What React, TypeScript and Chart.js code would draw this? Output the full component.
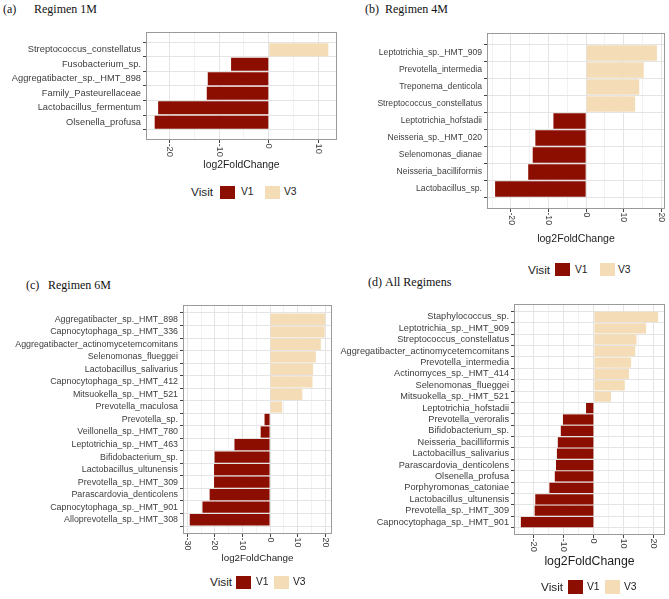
import React, { useEffect, useRef } from "react";
import { Chart, registerables } from "chart.js";

Chart.register(...registerables);

const V1_COLOR = "#8b0e00";
const V3_COLOR = "#f3dcb6";
const SANS = '"Liberation Sans", Arial, sans-serif';
const SERIF = '"Liberation Serif", "Times New Roman", serif';

// Regimen 1M (top to bottom)
const regimen1MTaxa = [
  "Streptococcus_constellatus",
  "Fusobacterium_sp.",
  "Aggregatibacter_sp._HMT_898",
  "Family_Pasteurellaceae",
  "Lactobacillus_fermentum",
  "Olsenella_profusa",
];
const regimen1MLfc = [12.0, -7.6, -12.3, -12.5, -22.3, -23.0];

// Regimen 4M
const regimen4MTaxa = [
  "Leptotrichia_sp._HMT_909",
  "Prevotella_intermedia",
  "Treponema_denticola",
  "Streptococcus_constellatus",
  "Leptotrichia_hofstadii",
  "Neisseria_sp._HMT_020",
  "Selenomonas_dianae",
  "Neisseria_bacilliformis",
  "Lactobacillus_sp.",
];
const regimen4MLfc = [18.8, 15.3, 14.1, 13.0, -8.7, -13.5, -14.2, -15.4, -24.2];

// Regimen 6M
const regimen6MTaxa = [
  "Aggregatibacter_sp._HMT_898",
  "Capnocytophaga_sp._HMT_336",
  "Aggregatibacter_actinomycetemcomitans",
  "Selenomonas_flueggei",
  "Lactobacillus_salivarius",
  "Capnocytophaga_sp._HMT_412",
  "Mitsuokella_sp._HMT_521",
  "Prevotella_maculosa",
  "Prevotella_sp.",
  "Veillonella_sp._HMT_780",
  "Leptotrichia_sp._HMT_463",
  "Bifidobacterium_sp.",
  "Lactobacillus_ultunensis",
  "Prevotella_sp._HMT_309",
  "Parascardovia_denticolens",
  "Capnocytophaga_sp._HMT_901",
  "Alloprevotella_sp._HMT_308",
];
const regimen6MLfc = [
  20.0, 19.8, 18.4, 16.6, 15.6, 15.4, 11.7, 4.4, -2.0, -3.4, -12.9, -20.1, -20.3,
  -20.3, -21.9, -24.5, -29.1,
];

// All regimens
const allRegimensTaxa = [
  "Staphylococcus_sp.",
  "Leptotrichia_sp._HMT_909",
  "Streptococcus_constellatus",
  "Aggregatibacter_actinomycetemcomitans",
  "Prevotella_intermedia",
  "Actinomyces_sp._HMT_414",
  "Selenomonas_flueggei",
  "Mitsuokella_sp._HMT_521",
  "Leptotrichia_hofstadii",
  "Prevotella_veroralis",
  "Bifidobacterium_sp.",
  "Neisseria_bacilliformis",
  "Lactobacillus_salivarius",
  "Parascardovia_denticolens",
  "Olsenella_profusa",
  "Porphyromonas_catoniae",
  "Lactobacillus_ultunensis",
  "Prevotella_sp._HMT_309",
  "Capnocytophaga_sp._HMT_901",
];
const allRegimensLfc = [
  21.4, 17.4, 14.2, 13.8, 12.4, 11.7, 10.3, 5.7, -2.6, -10.3, -11.0, -12.0, -12.3,
  -12.6, -13.0, -14.8, -19.5, -19.7, -24.3,
];

type PanelProps = {
  taxa: string[];
  lfc: number[];
  left: number; // canvas left
  top: number; // canvas top
  width: number;
  height: number;
  axisW: number; // width reserved for taxon labels
  axisH: number; // height reserved under the panel
  tickSize: number;
  titleSize: number;
  titleOffset: number;
};

const panelDecor = {
  id: "panelDecor",
  afterDraw(chart: any, _args: any, opts: any) {
    const { ctx, chartArea: a } = chart;
    const x = chart.scales.x;
    ctx.save();
    // panel border
    ctx.strokeStyle = "#9a9a9a";
    ctx.lineWidth = 1;
    ctx.strokeRect(a.left + 0.5, a.top + 0.5, a.right - a.left - 1, a.bottom - a.top - 1);
    // rotated value labels
    ctx.fillStyle = "#3d3d3d";
    ctx.font = `${opts.tickSize}px ${SANS}`;
    ctx.textAlign = "left";
    ctx.textBaseline = "middle";
    for (const t of x.ticks) {
      if (Math.abs(t.value % 10) > 1e-9) continue;
      const px = x.getPixelForValue(t.value);
      ctx.save();
      ctx.translate(px, a.bottom + 3.5);
      ctx.rotate(Math.PI / 2);
      ctx.fillText(String(t.value), 0, 0);
      ctx.restore();
    }
    // axis title
    ctx.fillStyle = "#1e1e1e";
    ctx.font = `${opts.titleSize}px ${SANS}`;
    ctx.textAlign = "center";
    ctx.textBaseline = "middle";
    ctx.fillText("log2FoldChange", (a.left + a.right) / 2, a.bottom + opts.titleOffset);
    ctx.restore();
  },
};

function Panel(p: PanelProps) {
  const ref = useRef<HTMLCanvasElement>(null);
  useEffect(() => {
    const n = p.taxa.length;
    const bottomUp = [...p.taxa].reverse();
    const lo = Math.min(...p.lfc);
    const hi = Math.max(...p.lfc);
    const pad = (hi - lo) * 0.05;
    const points = p.lfc.map((v, i) => ({ x: v, y: n - 1 - i }));
    const colors = p.lfc.map((v) => (v < 0 ? V1_COLOR : V3_COLOR));
    const isMajor = (c: any) => c.tick && Math.abs(c.tick.value % 10) < 1e-9;
    const chart = new Chart(ref.current!, {
      type: "bar",
      data: {
        datasets: [
          {
            data: points,
            backgroundColor: colors,
            borderWidth: 0,
            categoryPercentage: 0.9,
            barPercentage: 1,
          },
        ],
      },
      plugins: [panelDecor],
      options: {
        responsive: false,
        animation: false,
        indexAxis: "y",
        layout: { padding: { top: 2, right: 2, left: 0, bottom: 0 } },
        plugins: {
          legend: { display: false },
          tooltip: { enabled: false },
          panelDecor: {
            tickSize: p.tickSize,
            titleSize: p.titleSize,
            titleOffset: p.titleOffset,
          },
        } as any,
        scales: {
          x: {
            type: "linear",
            min: lo - pad,
            max: hi + pad,
            border: { display: false },
            ticks: {
              display: false,
              stepSize: 5,
              includeBounds: false,
              maxTicksLimit: 40,
            },
            grid: {
              color: (c: any) => (isMajor(c) ? "#e4e4e4" : "#f2f2f2"),
              tickColor: (c: any) => (isMajor(c) ? "#444" : "rgba(0,0,0,0)"),
              tickLength: 3,
              drawTicks: true,
            },
            afterFit: (s: any) => {
              s.height = p.axisH;
              s.paddingLeft = 0;
              s.paddingRight = 0;
            },
          },
          y: {
            type: "linear",
            min: -0.6,
            max: n - 0.4,
            border: { display: false },
            afterBuildTicks: (s: any) => {
              s.ticks = bottomUp.map((_, i) => ({ value: i }));
            },
            ticks: {
              padding: 2,
              color: "#3d3d3d",
              font: { family: SANS, size: p.tickSize },
              callback: (v: any) => bottomUp[Math.round(Number(v))] ?? "",
              autoSkip: false,
            },
            grid: {
              color: "#e4e4e4",
              tickColor: "#444",
              tickLength: 3,
            },
            afterFit: (s: any) => {
              s.width = p.axisW;
              s.paddingTop = 0;
              s.paddingBottom = 0;
            },
          },
        },
      },
    });
    return () => chart.destroy();
  }, []);
  return (
    <canvas
      ref={ref}
      width={p.width}
      height={p.height}
      style={{
        position: "absolute",
        left: p.left,
        top: p.top,
        width: p.width,
        height: p.height,
      }}
    />
  );
}

function PanelTitle({ tag, text, tagX, textX, baseline }: any) {
  const size = 12;
  const common: React.CSSProperties = {
    position: "absolute",
    top: baseline - 10,
    fontFamily: SERIF,
    fontSize: size,
    lineHeight: `${size}px`,
    color: "#111",
    whiteSpace: "nowrap",
  };
  return (
    <>
      <div style={{ ...common, left: tagX }}>{tag}</div>
      <div style={{ ...common, left: textX }}>{text}</div>
    </>
  );
}

function Legend({ visitX, box1X, txt1X, box3X, txt3X, cy, boxW, boxH }: any) {
  const txt = (x: number, s: string, size: number) => (
    <div
      style={{
        position: "absolute",
        left: x,
        top: cy - 10,
        height: 20,
        lineHeight: "20px",
        fontFamily: SANS,
        fontSize: size,
        color: "#222",
        whiteSpace: "nowrap",
      }}
    >
      {s}
    </div>
  );
  const box = (x: number, c: string) => (
    <div
      style={{
        position: "absolute",
        left: x,
        top: cy - boxH / 2,
        width: boxW,
        height: boxH,
        background: c,
      }}
    />
  );
  return (
    <>
      {txt(visitX, "Visit", 11.8)}
      {box(box1X, V1_COLOR)}
      {txt(txt1X, "V1", 10.3)}
      {box(box3X, V3_COLOR)}
      {txt(txt3X, "V3", 10.3)}
    </>
  );
}

export default function App() {
  return (
    <div
      style={{
        position: "absolute",
        left: 0,
        top: 0,
        width: 669,
        height: 599,
        background: "#fff",
        overflow: "hidden",
      }}
    >
      <PanelTitle tag="(a)" text="Regimen 1M" tagX={3} textX={34} baseline={13} />
      <PanelTitle tag="(b)" text="Regimen 4M" tagX={365} textX={385} baseline={13} />
      <PanelTitle tag="(c)" text="Regimen 6M" tagX={26} textX={48} baseline={289} />
      <PanelTitle tag="(d)" text="All Regimens" tagX={368} textX={385} baseline={286} />

      <Panel
        taxa={regimen1MTaxa}
        lfc={regimen1MLfc}
        left={0}
        top={30}
        width={339}
        height={150}
        axisW={146}
        axisH={40}
        tickSize={9.3}
        titleSize={10.4}
        titleOffset={25}
      />
      <Panel
        taxa={regimen4MTaxa}
        lfc={regimen4MLfc}
        left={340}
        top={31}
        width={327}
        height={218}
        axisW={147}
        axisH={40}
        tickSize={8.6}
        titleSize={10.6}
        titleOffset={30.5}
      />
      <Panel
        taxa={regimen6MTaxa}
        lfc={regimen6MLfc}
        left={0}
        top={303}
        width={334}
        height={266}
        axisW={183}
        axisH={35}
        tickSize={8.9}
        titleSize={9.8}
        titleOffset={24}
      />
      <Panel
        taxa={allRegimensTaxa}
        lfc={allRegimensLfc}
        left={340}
        top={302}
        width={327}
        height={273}
        axisW={174}
        axisH={40}
        tickSize={9.2}
        titleSize={12.3}
        titleOffset={26.5}
      />

      <Legend visitX={191} box1X={220} txt1X={241} box3X={265} txt3X={284} cy={192} boxW={15} boxH={13} />
      <Legend visitX={528} box1X={555} txt1X={575} box3X={600} txt3X={618} cy={269.5} boxW={15} boxH={13} />
      <Legend visitX={210} box1X={236} txt1X={256} box3X={274} txt3X={293} cy={582} boxW={15} boxH={13} />
      <Legend visitX={541} box1X={568} txt1X={587} box3X={605} txt3X={624} cy={587} boxW={15} boxH={14} />
    </div>
  );
}
